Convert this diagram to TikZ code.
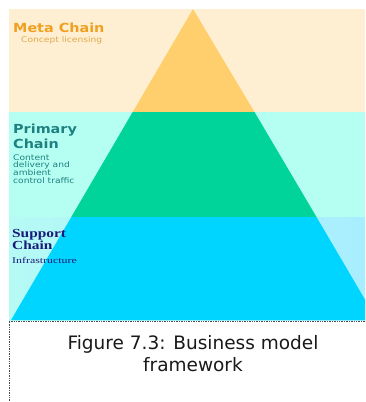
\documentclass[tikz,border=0pt]{standalone}
\usepackage{fontspec}
\newfontfamily\vsans{DejaVu Sans}
\newfontfamily\vsanswide[FakeStretch=1.15]{DejaVu Sans}
\newfontfamily\vsanssmall[FakeStretch=1.17]{DejaVu Sans}
\newfontfamily\vserifwide[FakeStretch=1.25]{Liberation Serif}
\newfontfamily\vserifsmall[FakeStretch=1.35]{Liberation Serif}
\definecolor{metabg}{HTML}{FFEFD2}
\definecolor{primbg}{HTML}{B5FFF2}
\definecolor{suppbgL}{HTML}{B5FAF5}
\definecolor{suppbgR}{HTML}{A8EEFF}
\definecolor{metafg}{HTML}{FFCF6E}
\definecolor{primfg}{HTML}{00D49B}
\definecolor{suppfg}{HTML}{00D5FF}
\definecolor{metatxt}{HTML}{F0A020}
\definecolor{metasub}{HTML}{E0A848}
\definecolor{primtxt}{HTML}{1E8080}
\definecolor{supptxt}{HTML}{1A1A7A}
\tikzset{
  title/.style={anchor=base west, inner sep=0pt, font=\vsanswide\bfseries\fontsize{12.5}{13}\selectfont},
  sub/.style={anchor=base west, inner sep=0pt, font=\vsanssmall\fontsize{7.8}{8}\selectfont},
  stitle/.style={anchor=base west, inner sep=0pt, text=supptxt, font=\vserifwide\bfseries\fontsize{12.3}{12}\selectfont},
  ssub/.style={anchor=base west, inner sep=0pt, text=supptxt, font=\vserifsmall\fontsize{8.8}{9}\selectfont},
  frameline/.style={densely dotted, line width=0.7pt, draw=black!70},
}
\begin{document}
\begin{tikzpicture}[x=1pt,y=-1pt]
\useasboundingbox (0,0) rectangle (365,402);
% bands
\fill[metabg] (9,9) rectangle (365,112);
\fill[primbg] (9,112) rectangle (365,217);
\shade[left color=suppbgL, right color=suppbgR] (9,217) rectangle (365,320);
% pyramid
\coordinate (apex) at (193,9);
\coordinate (l1) at (132.7,112);
\coordinate (r1) at (254.5,112);
\coordinate (l2) at (71.3,217);
\coordinate (r2) at (316.5,217);
\coordinate (l3) at (11.1,320);
\coordinate (r3) at (377,320);
\begin{scope}
\clip (9,9) rectangle (365,320);
\fill[metafg] (apex) -- (l1) -- (r1) -- cycle;
\fill[primfg] (l1) -- (l2) -- (r2) -- (r1) -- cycle;
\fill[suppfg] (l2) -- (l3) -- (r3) -- (r2) -- cycle;
\end{scope}
% texts
\node[title, text=metatxt] (meta) at (13,32) {Meta Chain};
\node[sub, text=metasub] (metas) at (21,42) {Concept licensing};
\node[title, text=primtxt] (prim1) at (13,133) {Primary};
\node[title, text=primtxt] (prim2) at (13,148) {Chain};
\node[sub, text=primtxt] (p1) at (13,160) {Content};
\node[sub, text=primtxt] (p2) at (13,167.7) {delivery and};
\node[sub, text=primtxt] (p3) at (13,175.4) {ambient};
\node[sub, text=primtxt] (p4) at (13,183) {control traffic};
\node[stitle] (sup1) at (12,237) {Support};
\node[stitle] (sup2) at (12,249) {Chain};
\node[ssub] (sup3) at (12,263) {Infrastructure};
% frame
\coordinate (fa) at (9,321);
\coordinate (fb) at (365,321);
\coordinate (fc) at (9,402);
\draw[frameline] (fb) -- (fa) -- (fc);
\node[inner sep=0pt, align=center, font=\vsans\fontsize{18.5}{22}\selectfont, text=black!90] (cap) at (193,354) {Figure 7.3: Business model\\framework};
\end{tikzpicture}
\end{document}
